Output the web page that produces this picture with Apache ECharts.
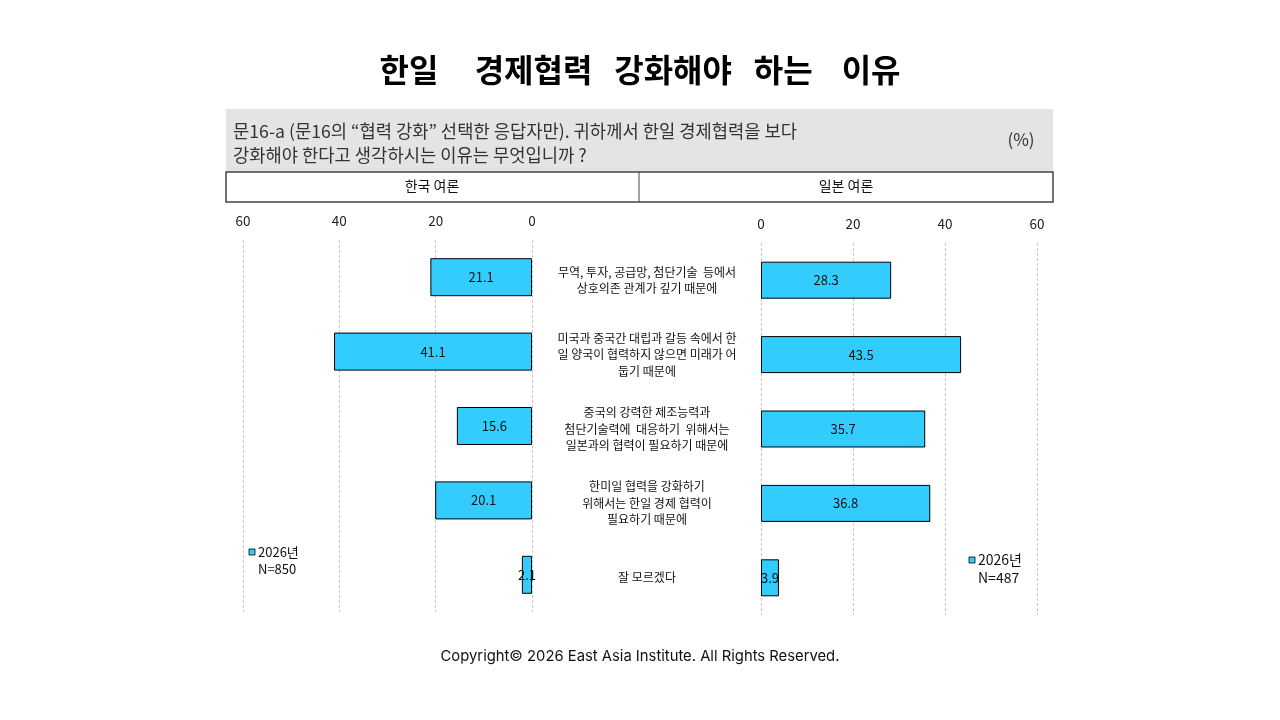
<!DOCTYPE html>
<html>
<head>
<meta charset="utf-8">
<script src="https://cdn.jsdelivr.net/npm/echarts@6/dist/echarts.min.js"></script>
<style>
html, body { margin: 0; padding: 0; background: #fff; }
#chart { width: 1280px; height: 720px; }
</style>
</head>
<body>
<div id="chart"></div>
<script>
var myChart = echarts.init(document.getElementById('chart'));
var fontFamily = '"Noto Sans CJK KR", "Noto Sans", sans-serif';
var barColor = '#33CCFF';

var categories = [
    '무역, 투자, 공급망, 첨단기술  등에서\n상호의존 관계가 깊기 때문에',
    '미국과 중국간 대립과 갈등 속에서 한\n일 양국이 협력하지 않으면 미래가 어\n둡기 때문에',
    '중국의 강력한 제조능력과\n첨단기술력에  대응하기  위해서는\n일본과의 협력이 필요하기 때문에',
    '한미일 협력을 강화하기\n위해서는 한일 경제 협력이\n필요하기 때문에',
    '잘 모르겠다'
];
var koreaValues = [21.1, 41.1, 15.6, 20.1, 2.1];
var japanValues = [28.3, 43.5, 35.7, 36.8, 3.9];

var valueAxisBase = {
    type: 'value',
    min: 0,
    max: 60,
    interval: 20,
    position: 'top',
    axisLine: { show: false },
    axisTick: { show: false },
    axisLabel: {
        color: '#222',
        fontSize: 13.5,
        fontFamily: fontFamily,
        margin: 12
    },
    splitLine: {
        show: true,
        lineStyle: { color: '#c8c8c8', type: [3, 2], width: 1 }
    }
};

var barLabel = {
    show: true,
    position: 'inside',
    color: '#111',
    fontSize: 13,
    fontFamily: fontFamily
};

var barItem = {
    color: barColor,
    borderColor: '#000',
    borderWidth: 1
};

option = {
    backgroundColor: '#fff',
    title: {
        text: '한일     경제협력   강화해야   하는    이유',
        left: 'center',
        top: 49,
        textStyle: {
            fontSize: 32,
            fontWeight: 'bold',
            color: '#000',
            fontFamily: fontFamily
        }
    },
    grid: [
        { left: 243, width: 289, top: 240, height: 372 },
        { left: 761, width: 276, top: 243, height: 372 }
    ],
    xAxis: [
        Object.assign({}, valueAxisBase, { gridIndex: 0, inverse: true }),
        Object.assign({}, valueAxisBase, { gridIndex: 1 })
    ],
    yAxis: [
        {
            type: 'category',
            gridIndex: 0,
            data: categories,
            inverse: true,
            axisLine: { show: false },
            axisTick: { show: false },
            axisLabel: { show: false }
        },
        {
            type: 'category',
            gridIndex: 1,
            data: categories,
            inverse: true,
            axisLine: { show: false },
            axisTick: { show: false },
            axisLabel: {
                align: 'center',
                margin: 114,
                color: '#111',
                fontSize: 12,
                lineHeight: 16.5,
                fontFamily: fontFamily,
                padding: [8, 0, 0, 0]
            }
        }
    ],
    series: [
        {
            name: '한국 여론',
            type: 'bar',
            xAxisIndex: 0,
            yAxisIndex: 0,
            data: koreaValues,
            barWidth: 38,
            itemStyle: barItem,
            label: barLabel
        },
        {
            name: '일본 여론',
            type: 'bar',
            xAxisIndex: 1,
            yAxisIndex: 1,
            data: japanValues,
            barWidth: 37,
            itemStyle: barItem,
            label: barLabel
        }
    ],
    graphic: [
        // question box
        {
            type: 'rect',
            shape: { x: 226, y: 109, width: 827, height: 63 },
            style: { fill: '#e4e4e4' }
        },
        {
            type: 'text',
            x: 233, y: 119,
            style: {
                text: '문16-a (문16의 “협력 강화” 선택한 응답자만). 귀하께서 한일 경제협력을 보다\n강화해야 한다고 생각하시는 이유는 무엇입니까 ?',
                fontSize: 17.7,
                lineHeight: 24,
                fill: '#333',
                fontFamily: fontFamily
            }
        },
        {
            type: 'text',
            x: 1021, y: 140,
            style: {
                text: '(%)',
                fontSize: 17,
                fill: '#333',
                align: 'center',
                verticalAlign: 'middle',
                fontFamily: fontFamily
            }
        },
        // country header row
        {
            type: 'rect',
            shape: { x: 226, y: 172, width: 827, height: 30 },
            style: { fill: '#fff', stroke: '#444', lineWidth: 1.5 }
        },
        {
            type: 'line',
            shape: { x1: 639, y1: 172, x2: 639, y2: 202 },
            style: { stroke: '#444', lineWidth: 1 }
        },
        {
            type: 'text',
            x: 432, y: 186,
            style: {
                text: '한국 여론', fontSize: 14, fill: '#111',
                align: 'center', verticalAlign: 'middle', fontFamily: fontFamily
            }
        },
        {
            type: 'text',
            x: 846, y: 186,
            style: {
                text: '일본 여론', fontSize: 14, fill: '#111',
                align: 'center', verticalAlign: 'middle', fontFamily: fontFamily
            }
        },
        // legends
        {
            type: 'rect',
            shape: { x: 249, y: 549, width: 6, height: 6 },
            style: { fill: barColor, stroke: '#000', lineWidth: 0.8 }
        },
        {
            type: 'text',
            x: 258, y: 544,
            style: {
                text: '2026년\nN=850', fontSize: 13, lineHeight: 17, fill: '#111', fontFamily: fontFamily
            }
        },
        {
            type: 'rect',
            shape: { x: 969, y: 557, width: 6, height: 6 },
            style: { fill: barColor, stroke: '#000', lineWidth: 0.8 }
        },
        {
            type: 'text',
            x: 978, y: 551,
            style: {
                text: '2026년\nN=487', fontSize: 14, lineHeight: 18, fill: '#111', fontFamily: fontFamily
            }
        },
        // footer
        {
            type: 'text',
            x: 640, y: 657,
            style: {
                text: 'Copyright© 2026 East Asia Institute. All Rights Reserved.',
                fontSize: 14.8, fill: '#111', align: 'center', verticalAlign: 'middle',
                fontFamily: 'Inter, "Noto Sans", sans-serif'
            }
        }
    ]
};
myChart.setOption(option);
</script>
</body>
</html>
